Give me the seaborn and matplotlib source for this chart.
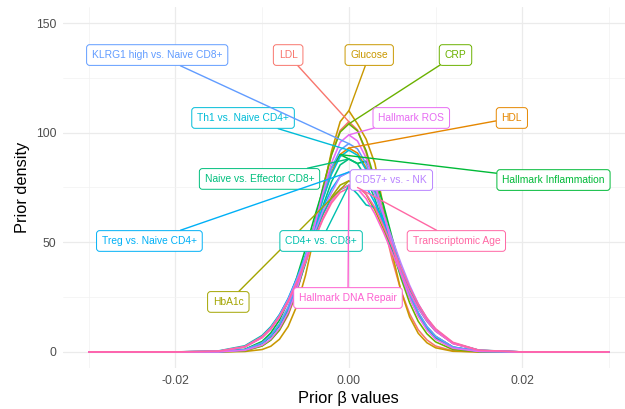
import matplotlib
matplotlib.use("Agg")
import matplotlib.pyplot as plt
import seaborn as sns
import pandas as pd

# grid of prior beta values (shared by all curves)
beta_grid = [-0.030, -0.020, -0.015, -0.012, -0.010, -0.009, -0.008, -0.007, -0.006, -0.005,
             -0.004, -0.003, -0.002, -0.001, 0.000, 0.001, 0.002, 0.003, 0.004, 0.005,
             0.006, 0.007, 0.008, 0.009, 0.010, 0.012, 0.015, 0.020, 0.030]

# density values, one list per outcome
ldl = [0, 0, 0.1, 0.6, 2.8, 5.5, 9.9, 16.8, 27.3, 41.0, 56.7, 74.6, 90.0, 101.0, 105.0,
       101.2, 90.7, 75.6, 58.5, 42.1, 28.1, 17.5, 10.1, 5.5, 2.7, 0.5, 0.0, 0, 0]
hdl = [0, 0, 0.1, 1.0, 4.1, 7.4, 12.6, 20.1, 30.2, 42.6, 56.5, 70.2, 82.0, 90.1, 93.0,
       90.7, 83.9, 73.7, 61.5, 48.7, 36.7, 26.2, 17.8, 11.4, 7.1, 2.2, 0.3, 0, 0]
glucose = [0, 0, 0.0, 0.2, 1.1, 2.6, 5.8, 11.6, 21.0, 34.9, 52.8, 72.8, 91.5, 105.0, 110.0,
           104.0, 97.0, 86.0, 66.0, 45.0, 28.0, 16.0, 8.5, 4.2, 1.9, 0.3, 0.0, 0, 0]
hba1c = [0, 0, 0.3, 2.3, 6.6, 10.5, 16.1, 23.2, 32.1, 42.0, 52.6, 62.5, 70.7, 76.1, 78.0,
         76.4, 71.8, 64.7, 55.9, 46.3, 36.8, 28.1, 20.6, 14.4, 9.8, 3.9, 0.7, 0, 0]
crp = [0, 0, 0.0, 0.5, 2.7, 5.4, 10.0, 17.4, 27.9, 41.7, 57.9, 74.9, 89.9, 100.3, 104.0,
       100.8, 91.7, 78.5, 63.1, 47.6, 33.8, 22.5, 14.0, 8.3, 4.6, 1.1, 0.1, 0, 0]
inflammation = [0, 0, 0.1, 1.2, 4.8, 8.7, 14.5, 23.0, 34.0, 47.0, 61.0, 74.0, 84.0, 90.0, 88.0,
                86.0, 87.0, 80.0, 67.0, 52.0, 38.0, 26.0, 17.0, 10.5, 6.2, 1.8, 0.2, 0, 0]
naive_effector = [0, 0, 0.1, 1.0, 3.9, 7.0, 11.9, 19.0, 28.6, 40.3, 53.4, 66.4, 77.6, 85.3, 88.0,
                  85.8, 79.4, 69.8, 58.2, 46.1, 34.8, 24.8, 16.8, 10.8, 6.7, 2.1, 0.3, 0, 0]
cd4_cd8 = [0, 0, 0.5, 2.8, 7.5, 11.5, 17.0, 24.0, 33.0, 43.0, 53.0, 63.0, 70.0, 74.0, 76.0,
           72.0, 67.0, 66.0, 61.0, 50.0, 38.0, 28.0, 20.0, 14.0, 9.5, 4.0, 0.8, 0, 0]
th1 = [0, 0, 0.1, 1.0, 4.0, 7.4, 12.4, 19.9, 29.9, 42.1, 55.8, 69.5, 81.1, 89.1, 92.0,
       89.7, 83.0, 73.0, 60.8, 48.2, 36.3, 25.9, 17.6, 11.3, 7.0, 2.2, 0.3, 0, 0]
treg = [0, 0, 0.3, 2.4, 7.0, 11.1, 16.9, 24.4, 33.7, 44.2, 55.3, 65.7, 74.3, 80.0, 82.0,
        80.3, 75.4, 68.0, 58.8, 48.7, 38.7, 29.5, 21.6, 15.2, 10.3, 4.1, 0.7, 0, 0]
klrg1 = [0, 0, 0.1, 1.0, 4.2, 7.6, 12.8, 20.5, 30.9, 43.5, 57.7, 71.7, 83.8, 92.1, 95.0,
         92.6, 85.7, 75.3, 62.8, 49.8, 37.5, 26.8, 18.1, 11.7, 7.2, 2.3, 0.3, 0, 0]
cd57 = [0, 0, 0.3, 2.3, 6.8, 10.8, 16.5, 23.8, 32.9, 43.2, 54.0, 64.2, 72.6, 80.0, 82.0,
        82.5, 79.0, 72.0, 62.5, 51.5, 40.5, 30.5, 22.0, 15.3, 10.2, 4.0, 0.7, 0, 0]
ros = [0, 0, 0.0, 0.7, 3.1, 5.9, 10.8, 18.1, 28.5, 41.7, 56.9, 72.5, 86.2, 95.6, 99.0,
       96.2, 88.4, 76.7, 63.0, 48.7, 35.6, 24.7, 16.2, 10.0, 5.8, 1.7, 0.2, 0, 0]
dna_repair = [0, 0, 0.3, 2.2, 6.5, 10.3, 15.7, 22.6, 31.2, 41.0, 51.2, 60.9, 68.9, 74.2, 76.0,
              74.4, 69.9, 63.0, 54.5, 45.1, 35.9, 27.4, 20.1, 14.1, 9.5, 3.8, 0.7, 0, 0]
tx_age = [0, 0, 0.4, 2.5, 7.0, 10.9, 16.3, 23.2, 31.7, 41.2, 51.0, 60.3, 67.9, 72.8, 74.8,
          75.0, 72.0, 66.0, 57.5, 48.0, 38.5, 29.5, 21.8, 15.5, 10.6, 4.4, 0.8, 0, 0]

groups = ["LDL", "HDL", "Glucose", "HbA1c", "CRP", "Hallmark Inflammation",
          "Naive vs. Effector CD8+", "CD4+ vs. CD8+", "Th1 vs. Naive CD4+",
          "Treg vs. Naive CD4+", "KLRG1 high vs. Naive CD8+", "CD57+ vs. - NK",
          "Hallmark ROS", "Hallmark DNA Repair", "Transcriptomic Age"]
densities = [ldl, hdl, glucose, hba1c, crp, inflammation, naive_effector, cd4_cd8,
             th1, treg, klrg1, cd57, ros, dna_repair, tx_age]

# ggplot default hue palette for 15 levels
colors = ["#F8766D", "#E58700", "#C99800", "#A3A500", "#6BB100", "#00BA38", "#00BF7D",
          "#00C0AF", "#00BCD8", "#00B0F6", "#619CFF", "#B983FF", "#E76BF3", "#FD61D1",
          "#FF67A4"]
palette = dict(zip(groups, colors))

# where the repelled labels sit (data coords)
label_pos = {
    "KLRG1 high vs. Naive CD8+": (-0.0221, 135.4),
    "LDL": (-0.0070, 135.4),
    "Glucose": (0.00235, 135.4),
    "CRP": (0.0123, 135.4),
    "Th1 vs. Naive CD4+": (-0.0122, 106.7),
    "Hallmark ROS": (0.0072, 106.7),
    "HDL": (0.0188, 106.7),
    "Naive vs. Effector CD8+": (-0.0103, 78.9),
    "CD57+ vs. - NK": (0.0049, 78.4),
    "Hallmark Inflammation": (0.0236, 78.4),
    "Treg vs. Naive CD4+": (-0.0230, 50.6),
    "CD4+ vs. CD8+": (-0.0032, 50.6),
    "Transcriptomic Age": (0.0124, 50.6),
    "HbA1c": (-0.0139, 22.8),
    "Hallmark DNA Repair": (-0.0001, 24.6),
}

rows = []
for g, ys in zip(groups, densities):
    for x, y in zip(beta_grid, ys):
        rows.append((g, x, y))
df = pd.DataFrame(rows, columns=["group", "beta", "density"])

sns.set_theme(style="whitegrid")
plt.rcParams["font.family"] = ["Liberation Sans", "DejaVu Sans"]

fig = plt.figure(figsize=(6.25, 4.09), dpi=100)
ax = fig.add_axes([0.1003, 0.0993, 0.9157, 0.8846])

sns.lineplot(data=df, x="beta", y="density", hue="group", hue_order=groups,
             palette=palette, estimator=None, legend=False, linewidth=1.15, ax=ax)

# labels with segments pointing at each curve's peak
for g, ys in zip(groups, densities):
    i = ys.index(max(ys))
    c = palette[g]
    ax.annotate(g, xy=(beta_grid[i], ys[i]), xytext=label_pos[g], textcoords="data",
                ha="center", va="center", fontsize=7.4, color=c, zorder=5,
                bbox=dict(boxstyle="round,pad=0.52,rounding_size=0.3", fc="white",
                          ec=c, lw=0.7, alpha=1),
                arrowprops=dict(arrowstyle="-", color=c, lw=1.0, shrinkA=0, shrinkB=0),
                annotation_clip=False)

ax.set_xlim(-0.033, 0.033)
ax.set_ylim(-7.5, 157.5)
ax.set_xticks([-0.02, 0.0, 0.02])
ax.set_xticklabels(["-0.02", "0.00", "0.02"])
ax.set_xticks([-0.03, -0.01, 0.01, 0.03], minor=True)
ax.set_yticks([0, 50, 100, 150])
ax.set_yticks([25, 75, 125], minor=True)
ax.grid(which="major", color="#EBEBEB", linewidth=0.9)
ax.grid(which="minor", color="#F2F2F2", linewidth=0.5)
ax.set_facecolor("white")
for s in ax.spines.values():
    s.set_visible(False)
ax.tick_params(which="both", length=0, labelsize=8.8, labelcolor="#4D4D4D", pad=4.5)

ax.set_xlabel("Prior \u03b2 values", fontsize=11.8, color="black", labelpad=3)
ax.set_ylabel("Prior density", fontsize=11.8, color="black", labelpad=4)

fig.savefig("out.png", dpi=100)
